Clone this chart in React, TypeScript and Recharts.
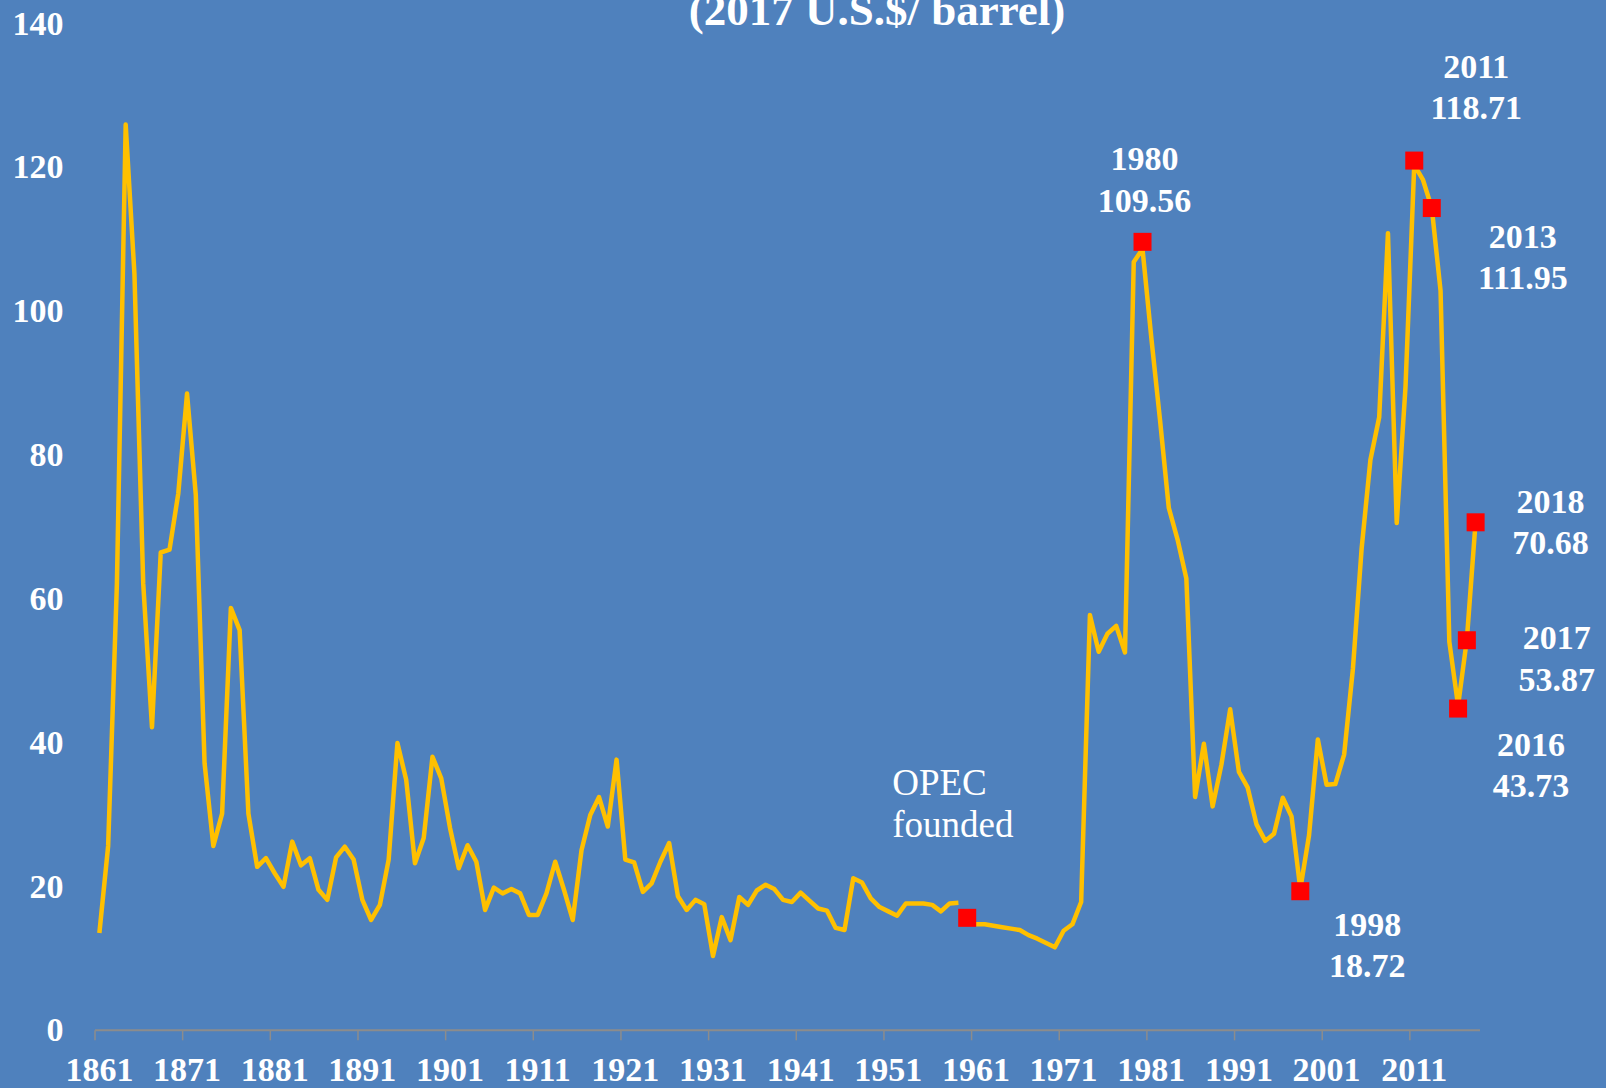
import React from 'react';
import { LineChart, Line, XAxis, YAxis } from 'recharts';

const startYear = 1861;
const prices: (number | null)[] = [
  13.4, 25.5, 62.0, 125.8, 105.0, 62.0, 42.0, 66.3, 66.7, 74.5,
  88.4, 74.3, 37.0, 25.5, 30.0, 58.6, 55.5, 30.0, 22.6, 23.8,
  21.7, 19.8, 26.1, 22.8, 23.8, 19.4, 18.0, 23.9, 25.4, 23.6,
  18.0, 15.2, 17.3, 23.6, 39.8, 34.7, 23.1, 26.6, 37.9, 34.9,
  28.0, 22.4, 25.6, 23.3, 16.6, 19.7, 18.9, 19.5, 18.9, 15.9,
  15.9, 18.9, 23.3, 19.4, 15.2, 24.9, 29.8, 32.3, 28.2, 37.5,
  23.6, 23.2, 19.1, 20.3, 23.3, 25.9, 18.5, 16.6, 18.0, 17.4,
  10.2, 15.6, 12.4, 18.4, 17.3, 19.3, 20.1, 19.5, 18.0, 17.7,
  19.0, 17.9, 16.8, 16.5, 14.1, 13.8, 21.0, 20.4, 18.2, 17.0,
  16.4, 15.8, 17.5, 17.5, 17.5, 17.3, 16.4, 17.5, 17.6, null,
  14.6, 14.6, 14.4, 14.2, 14.0, 13.8, 13.1, 12.6, 12.0, 11.4,
  13.7, 14.6, 17.7, 57.6, 52.5, 55.0, 56.1, 52.4, 106.7, 108.5,
  96.2, 84.7, 72.5, 68.1, 62.7, 32.3, 39.7, 31.0, 36.8, 44.5,
  35.8, 33.6, 28.5, 26.2, 27.2, 32.2, 29.6, 19.5, 27.0, 40.3,
  34.0, 34.1, 38.2, 50.1, 66.9, 79.2, 85.1, 110.7, 70.4, 89.3,
  120.2, 118.1, 114.2, 102.7, 53.9, 45.0, 54.2, 70.6,
];
const years = prices.map((_, i) => startYear + i);

const labelYears = [1861, 1871, 1881, 1891, 1901, 1911, 1921, 1931, 1941, 1951, 1961, 1971, 1981, 1991, 2001, 2011];
const tickBoundaries = labelYears.map((y) => y - 0.5);
const yTicks = [0, 20, 40, 60, 80, 100, 120, 140];

const markerYears = [1960, 1980, 1998, 2011, 2013, 2016, 2017, 2018];
const markerValues = [15.5, 109.5, 19.2, 120.8, 114.2, 44.6, 54.1, 70.5];
const markerTexts = [
  ['OPEC', 'founded'],
  ['1980', '109.56'],
  ['1998', '18.72'],
  ['2011', '118.71'],
  ['2013', '111.95'],
  ['2016', '43.73'],
  ['2017', '53.87'],
  ['2018', '70.68'],
];

const titleText = '(2017 U.S.$/ barrel)';

const data = years.map((year, i) => {
  const m = markerYears.indexOf(year);
  return { year, price: prices[i], marker: m >= 0 ? markerValues[m] : null };
});

// label placement (style), relative to each marker
const labelStyle: Record<number, { dx: number; dy: number; gap: number; anchor: string; size: number; weight: string }> = {
  1960: { dx: -75, dy: -123, gap: 42, anchor: 'start', size: 37, weight: 'normal' },
  1980: { dx: 2, dy: -72, gap: 42, anchor: 'middle', size: 34, weight: 'bold' },
  1998: { dx: 67, dy: 45, gap: 41, anchor: 'middle', size: 34, weight: 'bold' },
  2011: { dx: 62, dy: -83, gap: 41, anchor: 'middle', size: 34, weight: 'bold' },
  2013: { dx: 91, dy: 40, gap: 41, anchor: 'middle', size: 34, weight: 'bold' },
  2016: { dx: 73, dy: 47, gap: 41, anchor: 'middle', size: 34, weight: 'bold' },
  2017: { dx: 90, dy: 9, gap: 42, anchor: 'middle', size: 34, weight: 'bold' },
  2018: { dx: 75, dy: -9, gap: 41, anchor: 'middle', size: 34, weight: 'bold' },
};

const FONT = '"Liberation Serif", "Times New Roman", serif';
const BG = '#4F81BD';

const renderMarker = (props: any) => {
  const { cx, cy, payload, index } = props;
  const key = `mk-${index}`;
  if (!payload || payload.marker == null || cx == null || cy == null) return <g key={key} />;
  const m = markerYears.indexOf(payload.year);
  const st = labelStyle[payload.year];
  const lines = markerTexts[m] || [];
  return (
    <g key={key}>
      <rect x={cx - 9} y={cy - 9} width={18} height={18} fill="#FF0000" />
      {st &&
        lines.map((t, j) => (
          <text
            key={j}
            x={cx + st.dx}
            y={cy + st.dy + j * st.gap}
            textAnchor={st.anchor as any}
            fill="#FFFFFF"
            fontSize={st.size}
            fontWeight={st.weight}
            fontFamily={FONT}
          >
            {t}
          </text>
        ))}
    </g>
  );
};

export default function App() {
  return (
    <div style={{ position: 'absolute', left: 0, top: 0, width: 1606, height: 1088, background: BG, overflow: 'hidden' }}>
      <svg width={1606} height={1088} style={{ position: 'absolute', left: 0, top: 0 }}>
        <text x={877} y={25} textAnchor="middle" fill="#FFFFFF" fontSize={45} fontWeight="bold" fontFamily={FONT}>
          {titleText}
        </text>
      </svg>
      <div style={{ position: 'absolute', left: 0, top: 0 }}>
        <LineChart width={1606} height={1088} data={data} margin={{ top: 22.5, right: 126, bottom: 56.7, left: 0 }}>
          <XAxis
            xAxisId="tk"
            dataKey="year"
            type="number"
            domain={[1860.5, 2018.5]}
            ticks={tickBoundaries}
            height={1}
            tick={() => <g />}
            tickSize={10}
            axisLine={{ stroke: '#8C8C8C', strokeWidth: 2 }}
            tickLine={{ stroke: '#8C8C8C', strokeWidth: 1.5 }}
            interval={0}
          />
          <XAxis
            xAxisId="lab"
            dataKey="year"
            type="number"
            domain={[1860.5, 2018.5]}
            ticks={labelYears}
            height={1}
            tickSize={0}
            tickMargin={28}
            axisLine={false}
            tickLine={false}
            interval={0}
            tick={{ fill: '#FFFFFF', fontSize: 34, fontWeight: 'bold', fontFamily: FONT }}
          />
          <YAxis
            domain={[0, 140]}
            ticks={yTicks}
            width={95}
            axisLine={false}
            tickLine={false}
            tickSize={0}
            tickMargin={31.5}
            interval={0}
            tick={{ fill: '#FFFFFF', fontSize: 34, fontWeight: 'bold', fontFamily: FONT }}
          />
          <Line
            xAxisId="lab"
            dataKey="price"
            type="linear"
            stroke="#FFC000"
            strokeWidth={4.5}
            strokeLinejoin="round"
            dot={false}
            activeDot={false}
            connectNulls={false}
            isAnimationActive={false}
          />
          <Line
            xAxisId="lab"
            dataKey="marker"
            type="linear"
            stroke="none"
            dot={renderMarker}
            activeDot={false}
            connectNulls={false}
            isAnimationActive={false}
          />
        </LineChart>
      </div>
    </div>
  );
}
